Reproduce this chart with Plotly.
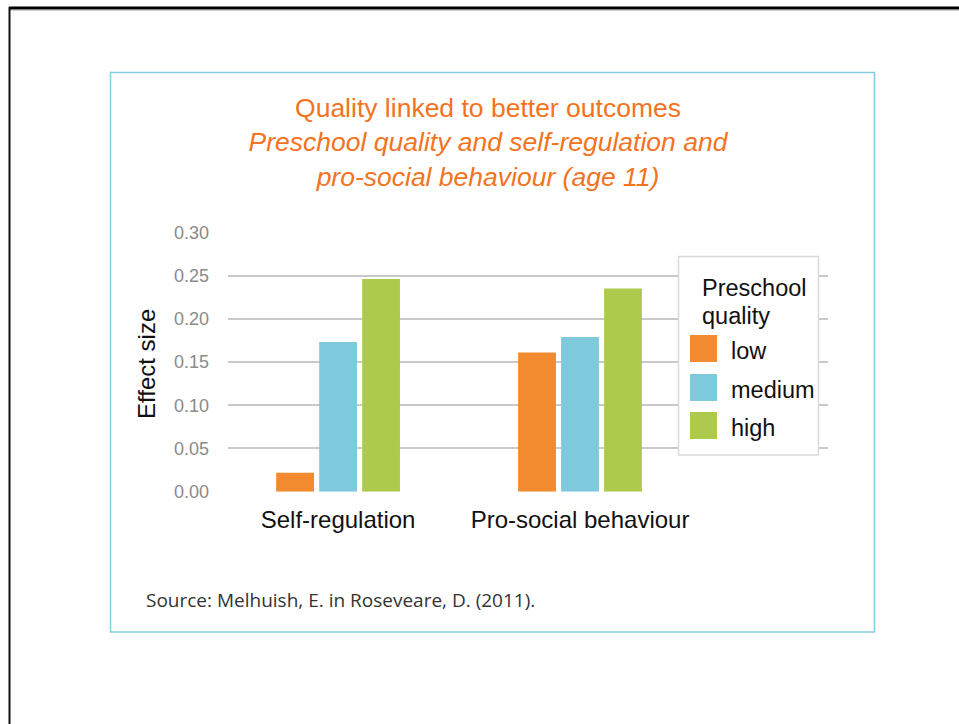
import plotly.graph_objects as go

# Data
categories = ["Self-regulation", "Pro-social behaviour"]
quality_levels = ["low", "medium", "high"]
low_values = [0.022, 0.161]
medium_values = [0.173, 0.179]
high_values = [0.246, 0.235]
y_ticks = [0.00, 0.05, 0.10, 0.15, 0.20, 0.25, 0.30]

series_values = [low_values, medium_values, high_values]
bar_colors = ["#F28B30", "#7FC9DD", "#AECA4C"]

W, H = 959, 724


def px(x):
    return x / W


def py(y):
    return 1 - y / H


FONT = "Liberation Sans, Arial, sans-serif"
ORANGE = "#F37321"

fig = go.Figure()
for name, vals, col in zip(quality_levels, series_values, bar_colors):
    fig.add_trace(go.Bar(
        x=categories, y=vals, name=name,
        marker=dict(color=col, line=dict(width=0)),
        showlegend=False,
    ))

fig.update_layout(
    template="none",
    autosize=False,
    width=W, height=H,
    margin=dict(l=0, r=0, t=0, b=0, pad=0, autoexpand=False),
    paper_bgcolor="white", plot_bgcolor="white",
    showlegend=False,
    barmode="group", bargap=0.467, bargroupgap=0.12,
    font=dict(family=FONT, color="#111111"),
    title=dict(
        text="Quality linked to better outcomes<br><i>Preschool quality and self-regulation and"
             "<br>pro-social behaviour (age 11)</i>",
        x=px(488), xanchor="center", y=py(117), yanchor="middle",
        xref="paper", yref="paper", automargin=False,
        font=dict(family=FONT, size=26.5, color=ORANGE),
    ),
    xaxis=dict(
        domain=[px(228), px(828)],
        range=[-0.455, 2.025],
        automargin=False,
        showgrid=False, zeroline=False, showline=False,
        ticks="", ticklabelstandoff=11,
        tickfont=dict(family=FONT, size=24, color="#111111"),
    ),
    yaxis=dict(
        domain=[py(491.7), py(232.3)],
        range=[0, 0.30],
        automargin=False,
        tickvals=y_ticks, ticktext=[f"{v:.2f}" for v in y_ticks],
        showgrid=True, gridcolor="#C9C9C9", gridwidth=2,
        zeroline=False, showline=False,
        ticks="", ticklabelstandoff=18,
        tickfont=dict(family=FONT, size=18, color="#8A8A8A"),
    ),
)

shapes = [
    # outer frame
    dict(type="line", xref="paper", yref="paper", x0=px(9), x1=1, y0=py(8), y1=py(8),
         line=dict(color="#000000", width=3)),
    dict(type="line", xref="paper", yref="paper", x0=px(10), x1=1, y0=py(10.5), y1=py(10.5),
         line=dict(color="#D0D0D0", width=1)),
    dict(type="line", xref="paper", yref="paper", x0=px(9.5), x1=px(9.5), y0=py(7), y1=0,
         line=dict(color="#111111", width=2)),
    # panel border
    dict(type="rect", xref="paper", yref="paper", x0=px(110.5), x1=px(874.5),
         y0=py(632), y1=py(72.5), line=dict(color="#86CCE0", width=1.5), layer="below"),
    # legend box
    dict(type="rect", xref="paper", yref="paper", x0=px(678.5), x1=px(818.5),
         y0=py(455), y1=py(256.5), fillcolor="white",
         line=dict(color="#D9D9D9", width=1.5), layer="above"),
]

annotations = [
    dict(text="Effect size", textangle=-90, xref="paper", yref="paper",
         x=px(146), y=py(364), xanchor="center", yanchor="middle", showarrow=False,
         font=dict(family=FONT, size=24, color="#111111")),
    dict(text="Source: Melhuish, E. in Roseveare, D. (2011).", xref="paper", yref="paper",
         x=px(144), y=py(600), xanchor="left", yanchor="middle", showarrow=False,
         font=dict(family="Open Sans, sans-serif", size=19, color="#333333")),
    dict(text="Preschool", xref="paper", yref="paper", x=px(700), y=py(288),
         xanchor="left", yanchor="middle", showarrow=False,
         font=dict(family=FONT, size=23.5, color="#111111")),
    dict(text="quality", xref="paper", yref="paper", x=px(700), y=py(316),
         xanchor="left", yanchor="middle", showarrow=False,
         font=dict(family=FONT, size=23.5, color="#111111")),
]

# legend swatches and labels
swatch_centers = [348.5, 387.5, 425.5]
for name, col, cy in zip(quality_levels, bar_colors, swatch_centers):
    shapes.append(dict(type="rect", xref="paper", yref="paper",
                       x0=px(690), x1=px(717), y0=py(cy + 13.5), y1=py(cy - 13.5),
                       fillcolor=col, line=dict(width=0), layer="above"))
    annotations.append(dict(text=name, xref="paper", yref="paper", x=px(729), y=py(cy + 2),
                            xanchor="left", yanchor="middle", showarrow=False,
                            font=dict(family=FONT, size=23.5, color="#111111")))

fig.update_layout(shapes=shapes, annotations=annotations)

fig.write_html("out.html")
